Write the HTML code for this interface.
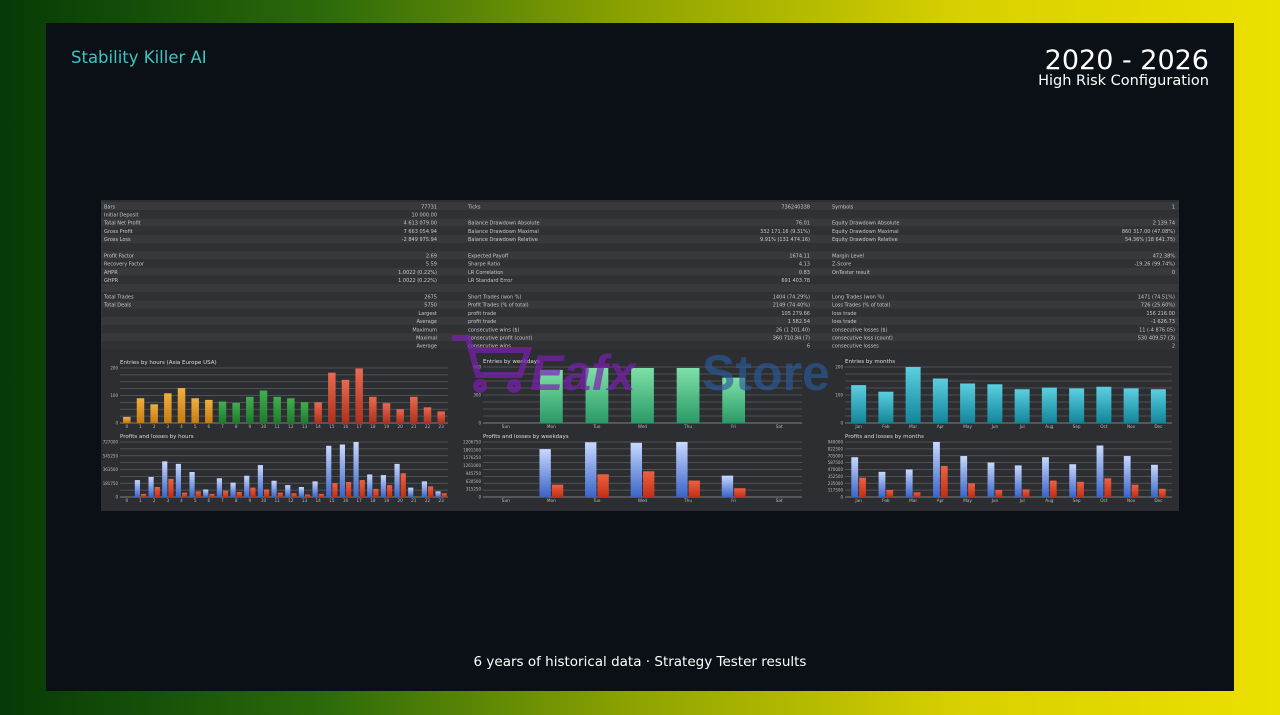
<!DOCTYPE html>
<html><head><meta charset="utf-8">
<style>
html,body{margin:0;padding:0;width:1280px;height:715px;overflow:hidden;font-family:"DejaVu Sans","Liberation Sans",sans-serif;}
#bg{position:absolute;left:0;top:0;width:1280px;height:715px;background:linear-gradient(90deg,#063a06 0%,#2a6a0a 25%,#8fa400 50%,#d8d000 75%,#ece000 100%);}
#panel{position:absolute;left:46px;top:23px;width:1188px;height:668px;background:#0b1016;}
.t{position:absolute;color:#fff;white-space:nowrap;}
svg{position:absolute;left:0;top:0;}
</style></head><body>
<div id="bg"></div>
<div id="panel"></div>
<div class="t" style="left:71px;top:48px;font-size:16.5px;color:#3cc4c0">Stability Killer AI</div>
<div class="t" style="right:71px;top:45px;font-size:27px;text-align:right">2020 - 2026</div>
<div class="t" style="right:71px;top:73px;font-size:14.5px;text-align:right">High Risk Configuration</div>
<div class="t" style="left:0;width:1280px;top:654px;font-size:13.5px;text-align:center">6 years of historical data · Strategy Tester results</div>
<svg id="s" width="1280" height="715"></svg>
<script>
const hours=["0","1","2","3","4","5","6","7","8","9","10","11","12","13","14","15","16","17","18","19","20","21","22","23"];
const hourEntries=[22,90,68,108,127,90,84,78,73,95,118,95,90,75,75,183,157,198,95,72,50,95,57,42];
const hourProfit=[0,135,160,285,265,200,60,150,115,170,255,130,95,80,125,410,420,440,180,175,265,75,125,45];
const hourLoss=[0,25,80,145,35,45,25,50,40,75,60,35,30,20,25,110,120,135,65,95,190,0,85,30];
const days=["Sun","Mon","Tue","Wed","Thu","Fri","Sat"];
const dayEntries=[0,550,570,570,570,470,0];
const dayProfit=[0,1750,2000,1980,2010,780,0];
const dayLoss=[0,450,830,940,600,320,0];
const months=["Jan","Feb","Mar","Apr","May","Jun","Jul","Aug","Sep","Oct","Nov","Dec"];
const monthEntries=[230,190,340,270,240,235,205,215,210,220,210,205];
const monthProfit=[680,430,470,940,700,590,540,680,560,880,700,550];
const monthLoss=[330,120,80,530,230,120,130,280,260,320,210,140];
const rows=[
["Bars","77731","Ticks","736240338","Symbols","1"],
["Initial Deposit","10 000.00","","","",""],
["Total Net Profit","4 613 079.00","Balance Drawdown Absolute","76.01","Equity Drawdown Absolute","2 139.74"],
["Gross Profit","7 663 054.94","Balance Drawdown Maximal","332 171.16 (9.31%)","Equity Drawdown Maximal","860 317.00 (47.08%)"],
["Gross Loss","-2 849 975.94","Balance Drawdown Relative","9.91% (131 474.16)","Equity Drawdown Relative","54.36% (18 641.75)"],
["","","","","",""],
["Profit Factor","2.69","Expected Payoff","1674.11","Margin Level","472.38%"],
["Recovery Factor","5.59","Sharpe Ratio","4.13","Z-Score","-19.26 (99.74%)"],
["AHPR","1.0022 (0.22%)","LR Correlation","0.83","OnTester result","0"],
["GHPR","1.0022 (0.22%)","LR Standard Error","691 403.78","",""],
["","","","","",""],
["Total Trades","2675","Short Trades (won %)","1404 (74.29%)","Long Trades (won %)","1471 (74.51%)"],
["Total Deals","5750","Profit Trades (% of total)","2149 (74.40%)","Loss Trades (% of total)","726 (25.60%)"],
["","Largest","profit trade","105 279.66","loss trade","156 216.00"],
["","Average","profit trade","1 582.54","loss trade","-1 626.73"],
["","Maximum","consecutive wins ($)","26 (1 201.40)","consecutive losses ($)","11 (-4 876.05)"],
["","Maximal","consecutive profit (count)","360 710.84 (7)","consecutive loss (count)","530 409.57 (3)"],
["","Average","consecutive wins","6","consecutive losses","2"]];
const S=document.getElementById('s');const NS="http://www.w3.org/2000/svg";
function el(t,a,p){const e=document.createElementNS(NS,t);for(const k in a)e.setAttribute(k,a[k]);(p||S).appendChild(e);return e;}
const defs=el('defs',{});
function grad(id,c1,c2){const g=el('linearGradient',{id:id,x1:0,y1:0,x2:0,y2:1},defs);el('stop',{offset:0,'stop-color':c1},g);el('stop',{offset:1,'stop-color':c2},g);}
grad('gO','#f0b040','#c87a10');grad('gG','#40b050','#1d7a2a');grad('gR','#e86a50','#b0301c');grad('gT','#7fe0a8','#2a9a66');grad('gC','#5cd0e0','#11859a');grad('gB','#c8d8ff','#3a64c8');grad('gL','#ee6040','#c03018');
let r=el('rect',{x:101,y:200,width:1078,height:311,fill:'#2c2e31'});

rows.forEach((row,i)=>{const y=202+i*8.2;
 el('rect',{x:101,y:y,width:1078,height:8.2,fill:i%2?'#2f3134':'#37393c'});
 const cols=[[104,'start'],[437,'end'],[468,'start'],[810,'end'],[832,'start'],[1175,'end']];
 row.forEach((tx,j)=>{if(!tx)return;const e=el('text',{x:cols[j][0],y:y+6.3,'text-anchor':cols[j][1],'font-size':5,fill:'#c8c8c8'});e.textContent=tx;
 });});
function chart(o){
 const g=el('g',{});
 const t=el('text',{x:o.x0,y:o.top-4,'font-size':5.5,fill:'#ddd'},g);t.textContent=o.title;
 const H=o.base-o.top,W=o.x1-o.x0;
 for(let k=0;k<=8;k++){const y=o.base-H*k/8;el('line',{x1:o.x0,x2:o.x1,y1:y,y2:y,stroke:k==0?'#999':'#5a5c60','stroke-width':0.7},g);}
 o.ticks.forEach((tk,k)=>{const y=o.base-H*k/(o.ticks.length-1);const e=el('text',{x:o.x0-2,y:y+1.5,'text-anchor':'end','font-size':4,fill:'#bbb'},g);e.textContent=tk;});
 const n=o.cats.length,step=W/n;const ys=v=>H*v/o.max;
 o.cats.forEach((c,i)=>{const cx=o.x0+step*(i+0.5);const e=el('text',{x:cx,y:o.base+5,'text-anchor':'middle','font-size':4.2,fill:'#bbb'},g);e.textContent=c;
  if(o.b){const bw=step*o.bw;const h=ys(o.a[i]);const b=el('rect',{x:cx-bw-0.5,y:o.base-h,width:bw,height:h,fill:'url(#gB)'},g);
   const h2=ys(o.b[i]);const b2=el('rect',{x:cx+0.5,y:o.base-h2,width:bw,height:h2,fill:'url(#gL)'},g);}
  else{const bw=step*o.bw;const h=ys(o.a[i]);const b=el('rect',{x:cx-bw/2,y:o.base-h,width:bw,height:h,fill:o.col(i)},g);}});
}
el('rect',{x:101,y:355,width:1078,height:156,fill:'#2c2e31'});
chart({name:'entries-by-hours-chart',title:'Entries by hours (Asia Europe USA)',x0:120,x1:448,top:368,base:423,max:200,ticks:['0','100','200'],cats:hours,a:hourEntries,bw:0.55,col:i=>i<7?'url(#gO)':i<14?'url(#gG)':'url(#gR)'});
chart({name:'profits-by-hours-chart',title:'Profits and losses by hours',x0:120,x1:448,top:442,base:497,max:440,ticks:['0','181750','363500','545250','727000'],cats:hours,a:hourProfit,b:hourLoss,bw:0.38});
chart({name:'entries-by-weekdays-chart',title:'Entries by weekdays',x0:483,x1:802,top:367,base:423,max:580,ticks:['0','300','600'],cats:days,a:dayEntries,bw:0.5,col:()=>'url(#gT)'});
chart({name:'profits-by-weekdays-chart',title:'Profits and losses by weekdays',x0:483,x1:802,top:442,base:497,max:2010,ticks:['0','315250','630500','945750','1261000','1576250','1891500','2206750'],cats:days,a:dayProfit,b:dayLoss,bw:0.25});
chart({name:'entries-by-months-chart',title:'Entries by months',x0:845,x1:1172,top:367,base:423,max:340,ticks:['0','100','200'],cats:months,a:monthEntries,bw:0.55,col:()=>'url(#gC)'});
chart({name:'profits-by-months-chart',title:'Profits and losses by months',x0:845,x1:1172,top:442,base:497,max:940,ticks:['0','117500','235000','352500','470000','587500','705000','822500','940000'],cats:months,a:monthProfit,b:monthLoss,bw:0.25});
const cart=el('path',{d:'M452 338 L468 338 L478 375 L520 375 L528 350 L472 350 M480 382 a4 4 0 1 0 0.1 0 M514 382 a4 4 0 1 0 0.1 0',stroke:'#7a1fb0','stroke-opacity':0.7,'stroke-width':6,fill:'none'});

const w1=el('text',{x:530,y:390,'font-size':50,'font-weight':'bold','font-style':'italic','font-family':'Liberation Sans',fill:'#7a1fb0','fill-opacity':0.7});w1.textContent='Eafx';

const w2=el('text',{x:702,y:390,'font-size':50,'font-weight':'bold','font-family':'Liberation Sans',fill:'#2a5a9a','fill-opacity':0.65});w2.textContent='Store';

</script>
</body></html>
